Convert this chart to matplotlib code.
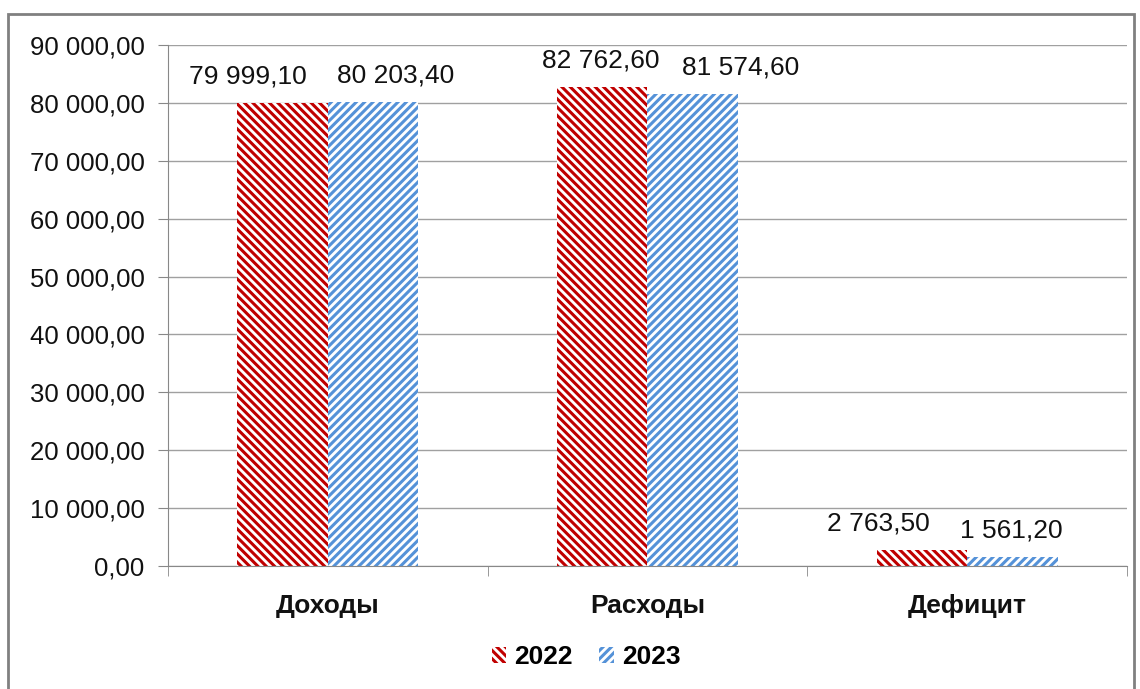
import matplotlib as mpl
import matplotlib.pyplot as plt
import numpy as np
from matplotlib.patches import Rectangle

categories = ["Доходы", "Расходы", "Дефицит"]
years = ["2022", "2023"]
values_2022 = [79999.10, 82762.60, 2763.50]
values_2023 = [80203.40, 81574.60, 1561.20]

red = "#C00000"
blue = "#5592D8"

# label nudges in pixels (the original chart has them moved by hand)
shift_2022 = [-35, -2, -44]
shift_2023 = [23, 48, -1]

plt.rcParams["font.family"] = ["Liberation Sans", "DejaVu Sans"]
plt.rcParams["hatch.linewidth"] = 2.2


def fmt(v):
    s = f"{v:,.2f}"
    return s.replace(",", " ").replace(".", ",")


fig = plt.figure(figsize=(11.4, 6.89), dpi=100)
ax = fig.add_axes([168 / 1140, 1 - 566 / 689, (1127 - 168) / 1140, (566 - 45) / 689])

# outer frame
fig.patches.append(Rectangle((8 / 1140, -0.05), (1134 - 8) / 1140, 1 - 14 / 689 + 0.05,
                             transform=fig.transFigure, fill=False, edgecolor="#808080", lw=2))

x = np.arange(len(categories))
w = 0.283
b1 = ax.bar(x - w / 2, values_2022, w, color="white", edgecolor=red, hatch="\\\\\\\\", lw=0, label=years[0])
b2 = ax.bar(x + w / 2, values_2023, w, color="white", edgecolor=blue, hatch="////", lw=0, label=years[1])

for bars, vals, shifts in ((b1, values_2022, shift_2022), (b2, values_2023, shift_2023)):
    for r, v, dx in zip(bars, vals, shifts):
        ax.annotate(fmt(v), (r.get_x() + r.get_width() / 2, v), xytext=(dx * 0.72, 19),
                    textcoords="offset points", ha="center", va="center", fontsize=19, color="#111111")

ax.set_xlim(-0.5, 2.5)
ax.set_ylim(0, 90000)
ticks = np.arange(0, 90001, 10000)
ax.set_yticks(ticks)
ax.set_yticklabels([fmt(t) for t in ticks], fontsize=18.5, color="#111111")
ax.set_xticks(x)
ax.set_xticklabels(categories, fontsize=19, fontweight="bold", color="#111111")
ax.tick_params(axis="x", length=0, pad=20)
ax.tick_params(axis="y", length=7, color="#888888", pad=10)
ax.yaxis.grid(True, color="#a0a0a0", lw=1)
ax.set_axisbelow(True)
for s in ["top", "right"]:
    ax.spines[s].set_visible(False)
ax.spines["left"].set_color("#888888")
ax.spines["bottom"].set_color("#888888")
# tick marks between categories on the bottom axis
ax.set_xticks([-0.5, 0.5, 1.5, 2.5], minor=True)
ax.tick_params(axis="x", which="minor", length=7, color="#888888")

leg = ax.legend(loc="center", bbox_to_anchor=(0.436, -0.175), ncol=2, frameon=False,
                prop={"size": 19, "weight": "bold"}, handlelength=0.55, handleheight=0.55,
                handletextpad=0.3, columnspacing=1.0)

fig.savefig("out.png", dpi=100)
